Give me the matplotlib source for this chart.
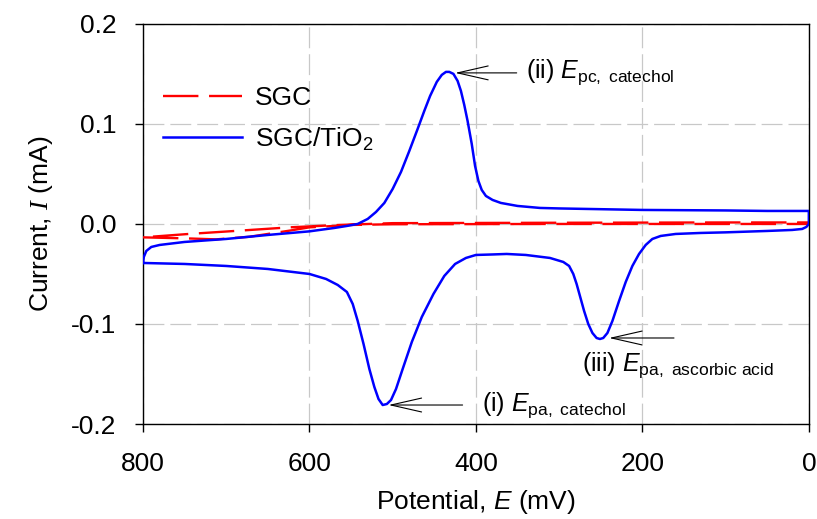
import matplotlib
matplotlib.use('Agg')
import matplotlib.pyplot as plt

plt.rcParams['font.family'] = ['Liberation Sans', 'DejaVu Sans']
plt.rcParams['mathtext.fontset'] = 'custom'
plt.rcParams['mathtext.rm'] = 'Liberation Sans'
plt.rcParams['mathtext.it'] = 'Liberation Sans:italic'
plt.rcParams['mathtext.sf'] = 'Liberation Serif:italic'

# SGC/TiO2 cyclic voltammogram, E in mV, I in mA
# anodic branch, 800 -> 0 mV
E_tio2_a = [800, 750, 700, 650, 600, 580, 566, 555, 548, 542, 535, 528, 522, 517,
            512, 507, 502, 496, 488, 477, 465, 451, 438, 425, 412, 400, 380, 363,
            340, 311, 295, 288, 283, 279, 275, 270, 265, 260, 255, 251, 247, 242,
            236, 228, 220, 212, 204, 196, 188, 178, 160, 130, 100, 50, 20, 8, 3, 0]
I_tio2_a = [-0.039, -0.040, -0.042, -0.045, -0.050, -0.055, -0.061, -0.068, -0.080,
            -0.097, -0.120, -0.145, -0.163, -0.175, -0.181, -0.180, -0.176, -0.165,
            -0.145, -0.118, -0.093, -0.070, -0.052, -0.040, -0.034, -0.031, -0.0305,
            -0.030, -0.031, -0.034, -0.038, -0.042, -0.050, -0.060, -0.072, -0.087,
            -0.100, -0.109, -0.114, -0.115, -0.114, -0.109, -0.097, -0.077, -0.058,
            -0.042, -0.030, -0.021, -0.015, -0.012, -0.010, -0.009, -0.0084, -0.007,
            -0.006, -0.005, -0.003, 0.0]
# cathodic branch, 0 -> 800 mV
E_tio2_c = [0, 50, 100, 200, 300, 323, 350, 370, 380, 388, 393, 397, 401, 405, 410,
            414, 418, 422, 427, 432, 436, 441, 447, 455, 462, 470, 480, 490, 500,
            510, 520, 530, 542, 555, 570, 600, 650, 700, 750, 780, 790, 796, 799, 800]
I_tio2_c = [0.013, 0.013, 0.0135, 0.014, 0.0155, 0.016, 0.018, 0.021, 0.024, 0.028,
            0.034, 0.043, 0.058, 0.080, 0.103, 0.119, 0.133, 0.143, 0.150, 0.152,
            0.152, 0.149, 0.142, 0.128, 0.113, 0.095, 0.073, 0.052, 0.035, 0.021,
            0.012, 0.005, 0.0, -0.002, -0.004, -0.0074, -0.011, -0.015, -0.018,
            -0.021, -0.023, -0.027, -0.033, -0.039]

# bare SGC
E_sgc = [800, 745, 712, 672, 624, 600, 550, 500, 300, 100, 0,
         0, 100, 300, 500, 564, 624, 684, 745, 800]
I_sgc = [-0.0134, -0.0145, -0.0154, -0.0128, -0.0067, -0.0034, -0.001, -0.0003,
         0.0, 0.0, 0.0,
         0.0015, 0.0015, 0.0012, 0.0008, -0.001, -0.0034, -0.0067, -0.010, -0.0134]

# peak labels
ann_text = [r'(ii) $\mathit{E}_{\mathrm{pc,\ catechol}}$',
            r'(i) $\mathit{E}_{\mathrm{pa,\ catechol}}$',
            r'(iii) $\mathit{E}_{\mathrm{pa,\ ascorbic\ acid}}$']
ann_tip_E = [425, 505, 240]
ann_tip_I = [0.151, -0.181, -0.114]
ann_tail_E = [351, 416, 162]
ann_text_E = [340, 393, 272]
ann_text_I = [0.146, -0.187, -0.147]

fig = plt.figure(figsize=(8.17, 5.19), dpi=100)
ax = fig.add_axes([0.175, 0.183, 0.815, 0.771])

ax.plot(E_sgc, I_sgc, color='red', lw=1.7, ls=(0, (15, 4.5)), label='SGC', zorder=3)
ax.plot(E_tio2_a + E_tio2_c, I_tio2_a + I_tio2_c, color='blue', lw=1.8,
        label='SGC/TiO$_2$', zorder=4)

for t, xe, yi, xt, tx, ty in zip(ann_text, ann_tip_E, ann_tip_I, ann_tail_E,
                                 ann_text_E, ann_text_I):
    ax.annotate('', xy=(xe, yi), xytext=(xt, yi),
                arrowprops=dict(arrowstyle='->,head_length=1.1,head_width=0.25',
                                lw=0.8, color='black', mutation_scale=20,
                                shrinkA=0, shrinkB=0))
    ax.text(tx, ty, t, fontsize=18, ha='left', va='baseline')

ax.set_xlim(800, 0)
ax.set_ylim(-0.2, 0.2)
ax.set_xticks([800, 600, 400, 200, 0])
ax.set_yticks([-0.2, -0.1, 0.0, 0.1, 0.2])
ax.set_yticklabels(['-0.2', '-0.1', '0.0', '0.1', '0.2'])
ax.tick_params(direction='out', length=6, width=1, labelsize=19, pad=14)
ax.tick_params(axis='y', pad=13)

ax.grid(True, color='#c8c8c8', lw=0.9, ls=(0, (16.7, 4.8)))
ax.set_axisbelow(True)
for s in ax.spines.values():
    s.set_linewidth(1)

ax.set_xlabel(r'Potential, $\mathit{E}$ (mV)', fontsize=19, labelpad=9)
ax.set_ylabel(r'Current, $\mathsf{I}$ (mA)', fontsize=19, labelpad=12)

ax.legend(loc='upper left', bbox_to_anchor=(0.018, 0.865), frameon=False,
          fontsize=19, handlelength=3.0, handletextpad=0.5, labelspacing=0.6,
          borderaxespad=0, borderpad=0.3)

fig.savefig('out.png', dpi=100)
